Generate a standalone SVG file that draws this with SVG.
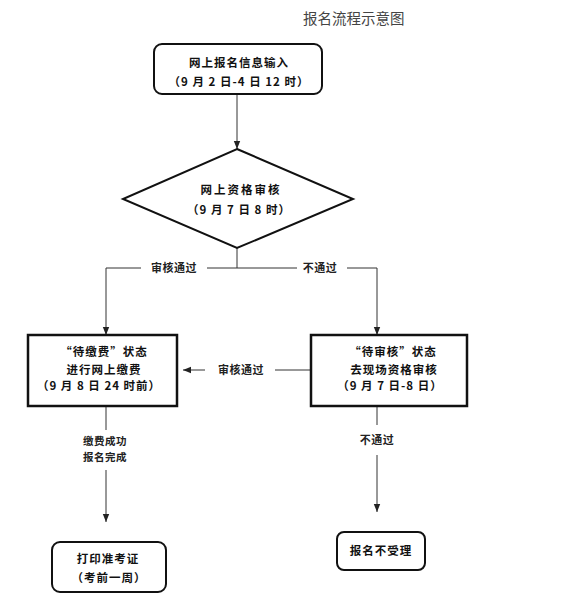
<svg xmlns="http://www.w3.org/2000/svg" width="574" height="615" viewBox="0 0 574 615">
<defs>
<marker id="arr" markerUnits="userSpaceOnUse" markerWidth="8" markerHeight="8" viewBox="0 0 8 8" refX="8" refY="4" orient="auto">
<path d="M0,0.8 L8,4 L0,7.2 Z" fill="#222"/>
</marker>
<style>
.t{font-family:"Noto Sans CJK SC","Noto Sans",sans-serif;font-size:11.5px;font-weight:bold;fill:#111;text-anchor:middle;letter-spacing:1px}
.lb{font-family:"Noto Sans CJK SC","Noto Sans",sans-serif;font-size:11px;font-weight:bold;fill:#222;text-anchor:middle;letter-spacing:0.5px}
.box{fill:#fff;stroke:#111;stroke-width:2}
.sq{fill:#fff;stroke:#111;stroke-width:2.5}
.ln{fill:none;stroke:#333;stroke-width:1}
</style>
</defs>
<rect width="574" height="615" fill="#fff"/>
<text x="303" y="24" style="font-family:'Noto Sans CJK SC',sans-serif;font-size:14.5px;fill:#444">报名流程示意图</text>

<g id="connectors">
<line class="ln" x1="237" y1="94" x2="237" y2="149" marker-end="url(#arr)"/>
<line class="ln" x1="237" y1="248" x2="237" y2="268"/>
<line class="ln" x1="106" y1="268" x2="141" y2="268"/>
<line class="ln" x1="207" y1="268" x2="297" y2="268"/>
<line class="ln" x1="347" y1="268" x2="377" y2="268"/>
<line class="ln" x1="106" y1="268" x2="106" y2="335" marker-end="url(#arr)"/>
<line class="ln" x1="377" y1="268" x2="377" y2="335" marker-end="url(#arr)"/>
<text class="lb" x="174" y="272">审核通过</text>
<text class="lb" x="320" y="272">不通过</text>
<line class="ln" x1="311" y1="370" x2="275" y2="370"/>
<line class="ln" x1="205" y1="370" x2="183" y2="370" marker-end="url(#arr)"/>
<text class="lb" x="241" y="374">审核通过</text>
<line class="ln" x1="106" y1="406" x2="106" y2="430"/>
<text class="lb" x="105" y="445" style="font-size:10.5px">缴费成功</text>
<text class="lb" x="105" y="461" style="font-size:10.5px">报名完成</text>
<line class="ln" x1="106" y1="470" x2="106" y2="522" marker-end="url(#arr)"/>
<line class="ln" x1="377" y1="406" x2="377" y2="425"/>
<text class="lb" x="377" y="444">不通过</text>
<line class="ln" x1="377" y1="455" x2="377" y2="512" marker-end="url(#arr)"/>
</g>

<g id="n-input">
<rect class="box" x="154" y="44" width="168" height="50" rx="8"/>
<text class="t" x="239" y="67">网上报名信息输入</text>
<text class="t" x="239" y="86">（9 月 2 日-4 日 12 时）</text>
</g>

<g id="n-review">
<polygon class="box" points="237,149 353,199 237,248 123,199"/>
<text class="t" x="241" y="194" style="letter-spacing:2px">网上资格审核</text>
<text class="t" x="239" y="214">（9 月 7 日 8 时）</text>
</g>

<g id="n-pay">
<rect class="sq" x="28" y="335" width="149" height="71"/>
<text class="t" x="104" y="356">“待缴费”状态</text>
<text class="t" x="104" y="374">进行网上缴费</text>
<text class="t" x="99" y="390">（9 月 8 日 24 时前）</text>
</g>

<g id="n-onsite">
<rect class="sq" x="311" y="335" width="156" height="71"/>
<text class="t" x="393" y="356">“待审核”状态</text>
<text class="t" x="394" y="374">去现场资格审核</text>
<text class="t" x="390" y="390">（9 月 7 日-8 日）</text>
</g>

<g id="n-print">
<rect class="box" x="52" y="542" width="114" height="50" rx="8"/>
<text class="t" x="108" y="563">打印准考证</text>
<text class="t" x="109" y="582">（考前一周）</text>
</g>

<g id="n-reject">
<rect class="box" x="337" y="532" width="88" height="38" rx="7"/>
<text class="t" x="381" y="555">报名不受理</text>
</g>
</svg>
